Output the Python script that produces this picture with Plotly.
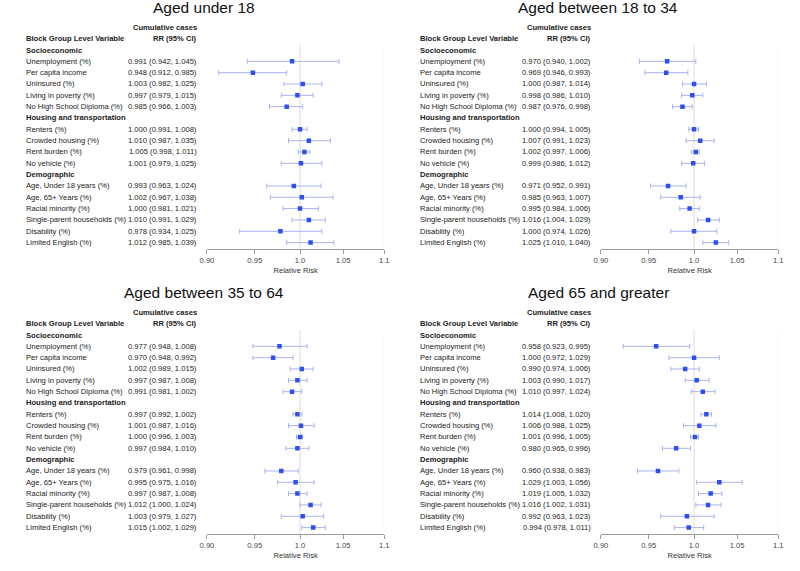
import math
import plotly.graph_objects as go

# ---------------- data ----------------
titles = ["Aged under 18", "Aged between 18 to 34", "Aged between 35 to 64", "Aged 65 and greater"]

sections = ["Socioeconomic", "Housing and transportation", "Demographic"]
section_vars = [
    ["Unemployment (%)", "Per capita income", "Uninsured (%)", "Living in poverty (%)",
     "No High School Diploma (%)"],
    ["Renters (%)", "Crowded housing (%)", "Rent burden (%)", "No vehicle (%)"],
    ["Age, Under 18 years (%)", "Age, 65+ Years (%)", "Racial minority (%)",
     "Single-parent households (%)", "Disability (%)", "Limited English (%)"],
]

rr_under18 = [0.991, 0.948, 1.003, 0.997, 0.985, 1.000, 1.010, 1.005, 1.001, 0.993, 1.002, 1.000, 1.010, 0.978, 1.012]
lo_under18 = [0.942, 0.912, 0.982, 0.979, 0.966, 0.991, 0.987, 0.998, 0.979, 0.963, 0.967, 0.981, 0.991, 0.934, 0.985]
hi_under18 = [1.045, 0.985, 1.025, 1.015, 1.003, 1.008, 1.035, 1.011, 1.025, 1.024, 1.038, 1.021, 1.029, 1.025, 1.039]

rr_18_34 = [0.970, 0.969, 1.000, 0.998, 0.987, 1.000, 1.007, 1.002, 0.999, 0.971, 0.985, 0.995, 1.016, 1.000, 1.025]
lo_18_34 = [0.940, 0.946, 0.987, 0.986, 0.976, 0.994, 0.991, 0.997, 0.986, 0.952, 0.963, 0.984, 1.004, 0.974, 1.010]
hi_18_34 = [1.002, 0.993, 1.014, 1.010, 0.998, 1.005, 1.023, 1.006, 1.012, 0.991, 1.007, 1.006, 1.029, 1.026, 1.040]

rr_35_64 = [0.977, 0.970, 1.002, 0.997, 0.991, 0.997, 1.001, 1.000, 0.997, 0.979, 0.995, 0.997, 1.012, 1.003, 1.015]
lo_35_64 = [0.948, 0.948, 0.989, 0.987, 0.981, 0.992, 0.987, 0.996, 0.984, 0.961, 0.975, 0.987, 1.000, 0.979, 1.002]
hi_35_64 = [1.008, 0.992, 1.015, 1.008, 1.002, 1.002, 1.016, 1.003, 1.010, 0.998, 1.016, 1.008, 1.024, 1.027, 1.029]

rr_65p = [0.958, 1.000, 0.990, 1.003, 1.010, 1.014, 1.006, 1.001, 0.980, 0.960, 1.029, 1.019, 1.016, 0.992, 0.994]
lo_65p = [0.923, 0.972, 0.974, 0.990, 0.997, 1.008, 0.988, 0.996, 0.965, 0.938, 1.003, 1.005, 1.002, 0.963, 0.978]
hi_65p = [0.995, 1.029, 1.006, 1.017, 1.024, 1.020, 1.025, 1.005, 0.996, 0.983, 1.056, 1.032, 1.031, 1.023, 1.011]

groups = [
    (rr_under18, lo_under18, hi_under18),
    (rr_18_34, lo_18_34, hi_18_34),
    (rr_35_64, lo_35_64, hi_35_64),
    (rr_65p, lo_65p, hi_65p),
]

tick_vals = [0.90, 0.95, 1.0, 1.05, 1.1]
tick_text = ["0.90", "0.95", "1.0", "1.05", "1.1"]

# ---------------- layout helpers ----------------
W, H = 800, 571
FONT = "Liberation Sans, Arial, sans-serif"
FS = 7.6
TXT = "#222222"
ROW = 11.33

# row indices (headers included)
header_rows = []
var_rows = []
var_names = []
r = 0
for s, vs in zip(sections, section_vars):
    header_rows.append((s, r))
    r += 1
    for v in vs:
        var_rows.append(r)
        var_names.append(v)
        r += 1
n_rows = r
y_range = [n_rows - 1 + 0.55, -0.45]

fig = go.Figure()
annotations = []
shapes = []
layout_axes = {}

for k, (title, (rr, lo, hi)) in enumerate(zip(titles, groups)):
    col, rowp = k % 2, k // 2
    xoff = col * 400
    yoff = rowp * 285
    row0_px = 50 + yoff
    top_px = row0_px + y_range[1] * ROW
    bot_px = row0_px + y_range[0] * ROW
    xd = [(xoff + 203) / W, (xoff + 383) / W]
    yd = [1 - bot_px / H, 1 - top_px / H]
    sfx = "" if k == 0 else str(k + 1)
    xa, ya = "x" + sfx, "y" + sfx

    def ypap(row):
        return 1 - (row0_px + row * ROW) / H

    layout_axes["xaxis" + sfx] = dict(
        domain=xd, anchor=ya, type="log",
        range=[math.log10(0.9), math.log10(1.1)],
        tickvals=tick_vals, ticktext=tick_text,
        showline=True, linecolor="#9a9a9a", linewidth=1,
        ticks="outside", ticklen=4, tickcolor="#9a9a9a",
        showgrid=False, zeroline=False,
        tickfont=dict(size=FS, color="#444444", family=FONT),
        title=dict(text="Relative Risk", font=dict(size=FS, color="#333333", family=FONT), standoff=3),
    )
    layout_axes["yaxis" + sfx] = dict(
        domain=yd, anchor=xa, range=y_range, visible=False,
        showgrid=False, zeroline=False,
    )

    # reference lines
    shapes.append(dict(type="line", xref=xa, yref=ya + " domain", x0=1.0, x1=1.0, y0=0, y1=1,
                       line=dict(color="#dcdcdc", width=1), layer="below"))
    shapes.append(dict(type="line", xref=xa, yref=ya + " domain", x0=1.1, x1=1.1, y0=0, y1=1,
                       line=dict(color="#ececfa", width=1), layer="below"))

    fig.add_trace(go.Scatter(
        x=rr, y=var_rows, xaxis=xa, yaxis=ya, mode="markers",
        marker=dict(symbol="square", size=4.5, color="#2f4ff0"),
        error_x=dict(type="data", symmetric=False,
                     array=[h - m for h, m in zip(hi, rr)],
                     arrayminus=[m - l for m, l in zip(rr, lo)],
                     color="#aab2ee", thickness=1, width=2.5),
        showlegend=False, hoverinfo="skip",
    ))

    # title
    annotations.append(dict(text=title, xref="paper", yref="paper",
                            x=(xoff + 200) / W, y=1 - (7.5 + yoff) / H,
                            xanchor="center", yanchor="middle", showarrow=False,
                            font=dict(size=15.5, color="#111111", family=FONT)))
    lx = (xoff + 17) / W
    rx = (xoff + 195) / W
    annotations.append(dict(text="<b>Cumulative cases</b>", xref="paper", yref="paper", x=rx, y=ypap(-2),
                            xanchor="right", yanchor="middle", showarrow=False,
                            font=dict(size=FS, color=TXT, family=FONT)))
    annotations.append(dict(text="<b>RR (95% CI)</b>", xref="paper", yref="paper", x=rx, y=ypap(-1),
                            xanchor="right", yanchor="middle", showarrow=False,
                            font=dict(size=FS, color=TXT, family=FONT)))
    annotations.append(dict(text="<b>Block Group Level Variable</b>", xref="paper", yref="paper", x=lx, y=ypap(-1),
                            xanchor="left", yanchor="middle", showarrow=False,
                            font=dict(size=FS, color=TXT, family=FONT)))
    for s, hr in header_rows:
        annotations.append(dict(text="<b>" + s + "</b>", xref="paper", yref=ya, x=lx, y=hr,
                                xanchor="left", yanchor="middle", showarrow=False,
                                font=dict(size=FS, color=TXT, family=FONT)))
    for name, vr, m, l, h in zip(var_names, var_rows, rr, lo, hi):
        annotations.append(dict(text=name, xref="paper", yref=ya, x=lx, y=vr,
                                xanchor="left", yanchor="middle", showarrow=False,
                                font=dict(size=FS, color=TXT, family=FONT)))
        annotations.append(dict(text=f"{m:.3f} ({l:.3f}, {h:.3f})", xref="paper", yref=ya, x=rx, y=vr,
                                xanchor="right", yanchor="middle", showarrow=False,
                                font=dict(size=FS, color=TXT, family=FONT)))

fig.update_layout(
    width=W, height=H,
    margin=dict(l=0, r=0, t=0, b=0),
    paper_bgcolor="white", plot_bgcolor="white",
    annotations=annotations, shapes=shapes,
    font=dict(family=FONT),
    **layout_axes,
)

fig.write_html("out.html", config={"displayModeBar": False},
               post_script="document.body.style.margin='0';document.body.style.padding='0';")
